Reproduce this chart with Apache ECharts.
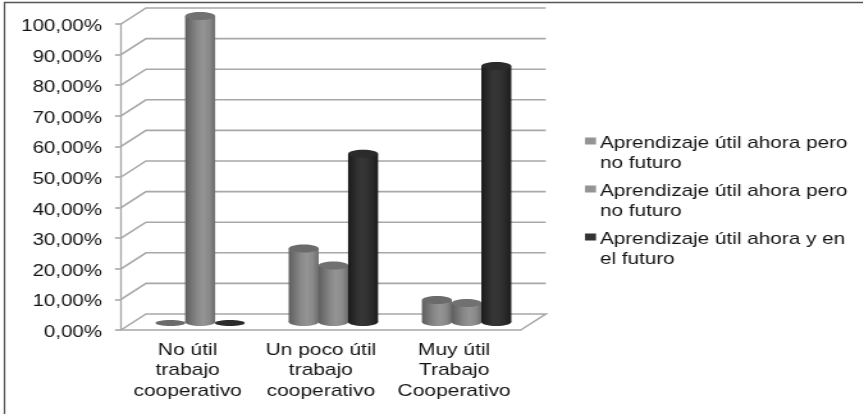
<!DOCTYPE html>
<html>
<head>
<meta charset="utf-8">
<style>
    html, body { margin: 0; padding: 0; background: #fff; overflow: hidden; }
    /* the reference picture is stretched sideways, text included */
    #main { width: 674.2px; height: 414px; transform: scaleX(1.28); transform-origin: 0 0; }
</style>
<script src="https://cdn.jsdelivr.net/npm/echarts@6/dist/echarts.min.js"></script>
</head>
<body>
<div id="main"></div>
<script>
var categories = ['No útil\ntrabajo\ncooperativo', 'Un poco útil\ntrabajo\ncooperativo', 'Muy útil\nTrabajo\nCooperativo'];
var seriesNames = ['Aprendizaje útil ahora pero\nno futuro', 'Aprendizaje útil ahora pero\nno futuro ', 'Aprendizaje útil ahora y en\nel futuro'];
var seriesA = [0, 24, 7.2];
var seriesB = [100, 18.5, 6.2];
var seriesC = [0, 55, 83.7];
var tickValues = [0, 10, 20, 30, 40, 50, 60, 70, 80, 90, 100];

var stretch = 1.28;
function sx(x) { return x / stretch; }

var depthX = sx(25), depthY = -16;
var gridColor = '#a8a8a8';
var textColor = '#141414';
var fontFamily = '"Liberation Sans", Arial, sans-serif';

function barGradient(stops) {
    return new echarts.graphic.LinearGradient(0, 0, 1, 0, stops.map(function (c, i) {
        return { offset: i / (stops.length - 1), color: c };
    }));
}

var greyStops = ['#5e5e5e', '#737373', '#888888', '#949494', '#8a8a8a', '#6c6c6c'];
var darkStops = ['#1a1a1a', '#2a2a2a', '#363636', '#333333', '#2a2a2a', '#1c1c1c'];

// one cylinder, sitting half way into the floor
function cylinderSeries(name, values, index, stops, topColor) {
    return {
        name: name,
        type: 'custom',
        coordinateSystem: 'cartesian2d',
        itemStyle: { color: stops[3] },
        z: 5,
        encode: { x: 0, y: 1 },
        data: values.map(function (v, i) { return [i, v]; }),
        renderItem: function (params, api) {
            var rx = sx(15);
            var base = api.coord([api.value(0), 0]);
            var top = api.coord([api.value(0), api.value(1)]);
            var cx = base[0] + depthX / 2 + (index - 1) * sx(29.7);
            var by = base[1] + depthY / 2;
            var ty = top[1] + depthY / 2;
            if (api.value(1) === 0) {
                return {
                    type: 'ellipse',
                    shape: { cx: cx, cy: by + 1, rx: rx, ry: 3 },
                    style: { fill: topColor }
                };
            }
            return {
                type: 'group',
                children: [
                    { type: 'rect', shape: { x: cx - rx, y: ty, width: rx * 2, height: by - ty }, style: { fill: barGradient(stops) } },
                    { type: 'ellipse', shape: { cx: cx, cy: by, rx: rx, ry: 4 }, style: { fill: barGradient(stops) } },
                    { type: 'ellipse', shape: { cx: cx, cy: ty, rx: rx, ry: 4 }, style: { fill: topColor } }
                ]
            };
        }
    };
}

// back wall lines and the side of the floor
var wallSeries = {
    type: 'custom',
    coordinateSystem: 'cartesian2d',
    silent: true,
    z: 1,
    encode: { y: 0 },
    data: tickValues.map(function (v) { return [v]; }),
    renderItem: function (params, api) {
        var band = api.size([1, 0])[0];
        var p = api.coord([0, api.value(0)]);
        var left = p[0] - band / 2;
        var right = left + band * categories.length;
        var pts = [[left, p[1]], [left + depthX, p[1] + depthY], [right + depthX, p[1] + depthY]];
        if (api.value(0) === 0) {
            pts.push([right, p[1]]);
        }
        return {
            type: 'polyline',
            shape: { points: pts },
            style: { stroke: gridColor, lineWidth: 1.6, fill: null }
        };
    }
};

var option = {
    animation: false,
    backgroundColor: '#fff',
    textStyle: { fontFamily: fontFamily },
    graphic: [
        { type: 'line', shape: { x1: sx(4), y1: 2.5, x2: sx(863), y2: 2.5 }, style: { stroke: '#555', lineWidth: 1.5 }, silent: true },
        { type: 'line', shape: { x1: sx(4.5), y1: 2, x2: sx(4.5), y2: 414 }, style: { stroke: '#555', lineWidth: 1.2 }, silent: true }
    ],
    legend: {
        orient: 'vertical',
        left: sx(585),
        top: 134,
        padding: 0,
        itemGap: 8,
        itemWidth: sx(11),
        itemHeight: 33,
        selectedMode: false,
        icon: 'path://M0 0H8.6V7H0ZM0 33H0Z',
        data: seriesNames,
        textStyle: {
            color: textColor,
            fontFamily: fontFamily,
            fontSize: 16.2,
            lineHeight: 20,
            padding: [0, 0, 0, -2]
        }
    },
    grid: { left: sx(121), right: sx(342), top: 24, bottom: 84 },
    xAxis: {
        type: 'category',
        data: categories,
        axisLine: { lineStyle: { color: gridColor, width: 1.6 } },
        axisTick: { show: false },
        axisLabel: {
            interval: 0,
            margin: 10,
            color: textColor,
            fontFamily: fontFamily,
            fontSize: 16.4,
            lineHeight: 20.5
        }
    },
    yAxis: {
        type: 'value',
        min: 0,
        max: 100,
        interval: 10,
        splitLine: { show: false },
        axisLine: { show: true, lineStyle: { color: gridColor, width: 1.3 } },
        axisTick: { show: true, length: sx(6), lineStyle: { color: gridColor, width: 1.6 } },
        axisLabel: {
            margin: sx(19),
            formatter: function (v) { return '{v|' + v + ',00%}'; },
            rich: {
                v: { color: textColor, fontFamily: fontFamily, fontSize: 16, padding: [5, 0, 0, 0] }
            }
        }
    },
    series: [
        wallSeries,
        cylinderSeries(seriesNames[0], seriesA, 0, greyStops, '#6b6b6b'),
        cylinderSeries(seriesNames[1], seriesB, 1, greyStops, '#717171'),
        cylinderSeries(seriesNames[2], seriesC, 2, darkStops, '#2b2b2b')
    ]
};

var myChart = echarts.init(document.getElementById('main'));
myChart.setOption(option);
</script>
</body>
</html>
